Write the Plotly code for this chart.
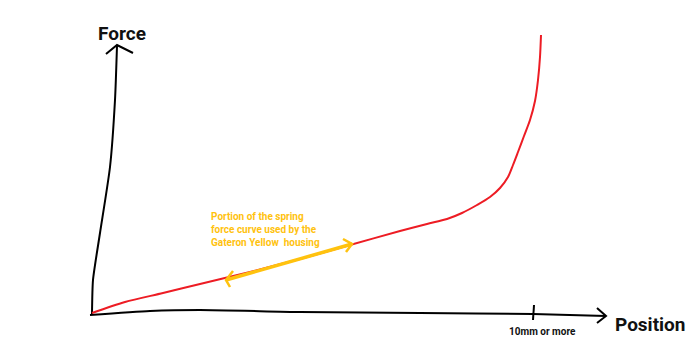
import plotly.graph_objects as go

# Sketch coordinates (pixel-like units, y grows downward)
curve_x = [92, 125, 163, 200, 250, 300, 350, 400, 427, 447, 462, 477, 490, 500, 508, 513, 518, 524, 530, 535, 538, 540, 541]
curve_y = [313, 302, 293, 284, 272, 259, 245, 231, 224, 219, 213, 205, 197, 188, 177, 165, 152, 136, 120, 101, 80, 57, 35]

yaxis_x = [92, 93, 100, 110, 115, 117]
yaxis_y = [314, 280, 233, 167, 100, 46]
yhead_x = [106, 117, 133]
yhead_y = [54, 45, 53]

xaxis_x = [90, 150, 200, 300, 420, 533, 606]
xaxis_y = [315, 311, 310, 312, 313, 314, 316]
xhead_x = [597, 606, 597]
xhead_y = [308, 316, 323]
tick_x = [534, 533]
tick_y = [305, 320]

band_x = [226, 352]
band_y = [280, 244]

BLACK = "#000000"
RED = "#ED1C24"
GOLD = "#FFC20E"

fig = go.Figure()

def line(x, y, color, width, shape="linear", smoothing=0.6):
    fig.add_trace(go.Scatter(x=x, y=y, mode="lines",
                             line=dict(color=color, width=width, shape=shape, smoothing=smoothing),
                             hoverinfo="skip", showlegend=False))

line(yaxis_x, yaxis_y, BLACK, 2, "spline")
line(yhead_x, yhead_y, BLACK, 2)
line(xaxis_x, xaxis_y, BLACK, 2, "spline")
line(xhead_x, xhead_y, BLACK, 2)
line(tick_x, tick_y, BLACK, 2)
line(curve_x, curve_y, RED, 2, "spline", 0.8)
line(band_x, band_y, GOLD, 3.5)
# arrowheads of the yellow double arrow
line([233, 226, 230], [271, 280, 287], GOLD, 2.5)
line([343, 352, 346], [239, 244, 252], GOLD, 2.5)

fig.add_annotation(x=122, y=33, text="<b>Force</b>", showarrow=False,
                   font=dict(family="Roboto", size=19, color="#111"))
fig.add_annotation(x=650, y=324, text="<b>Position</b>", showarrow=False,
                   font=dict(family="Roboto", size=19, color="#111"))
fig.add_annotation(x=542, y=331, text="<b>10mm or more</b>", showarrow=False,
                   font=dict(family="Roboto", size=10, color="#111"))
fig.add_annotation(x=209, y=229, xanchor="left",
                   text="<b>Portion of the spring<br>force curve used by the<br>Gateron Yellow  housing</b>",
                   showarrow=False, align="left",
                   font=dict(family="Roboto", size=10, color=GOLD))

fig.update_layout(width=690, height=354, margin=dict(l=0, r=0, t=0, b=0),
                  paper_bgcolor="white", plot_bgcolor="white",
                  xaxis=dict(range=[0, 690], visible=False, fixedrange=True),
                  yaxis=dict(range=[354, 0], visible=False, fixedrange=True))

fig.write_html("out.html", config={"displayModeBar": False})
